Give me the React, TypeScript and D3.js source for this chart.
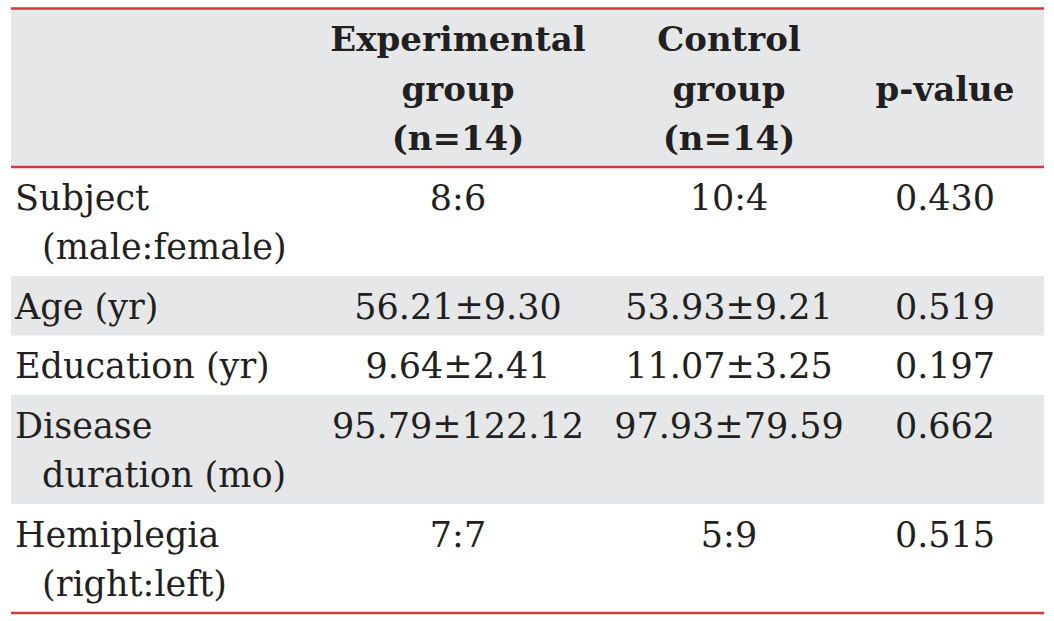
import React from "react";
import * as d3 from "d3";

const headers: string[][] = [
  [],
  ["Experimental", "group", "(n=14)"],
  ["Control", "group", "(n=14)"],
  ["p-value"],
];

const rowLabels: string[][] = [
  ["Subject", "(male:female)"],
  ["Age (yr)"],
  ["Education (yr)"],
  ["Disease", "duration (mo)"],
  ["Hemiplegia", "(right:left)"],
];
const experimental: string[] = ["8:6", "56.21±9.30", "9.64±2.41", "95.79±122.12", "7:7"];
const control: string[] = ["10:4", "53.93±9.21", "11.07±3.25", "97.93±79.59", "5:9"];
const pValues: string[] = ["0.430", "0.519", "0.197", "0.662", "0.515"];

const W = 1054;
const H = 621;
const left = 11;
const right = 1044;
const top = 8.5;
const lineH = 49.5;
const pad = 10;
const fontFamily = "'DejaVu Serif', serif";
const fontSize = 35;
const headerFontSize = 34;
const textColor = "#231f20";
const grey = "#e6e7e8";
const red = "#d2393e";

export default function App() {
  const colCenters = d3
    .scaleOrdinal<number, number>()
    .domain([1, 2, 3])
    .range([458, 729, 945]);

  const headerLines = d3.max(headers, (h) => h.length) ?? 1;
  const rowHeights = [headerLines, ...rowLabels.map((r) => r.length)].map(
    (n) => n * lineH + pad
  );
  const rowTops: number[] = [];
  let acc = top;
  rowHeights.forEach((h) => {
    rowTops.push(acc);
    acc += h;
  });
  const bottom = acc;
  const firstBase = 42.5;

  return (
    <div style={{ position: "absolute", left: 0, top: 0 }}>
      <svg width={W} height={H} style={{ display: "block", background: "#fff" }}>
        <rect x={left} y={rowTops[0]} width={right - left} height={rowHeights[0]} fill={grey} />
        {rowLabels.map((_, i) =>
          i % 2 === 1 ? (
            <rect
              key={"bg" + i}
              x={left}
              y={rowTops[i + 1]}
              width={right - left}
              height={rowHeights[i + 1]}
              fill={grey}
            />
          ) : null
        )}
        <g fontFamily={fontFamily} fontSize={headerFontSize} fontWeight="bold" fill={textColor} textAnchor="middle">
          {headers.map((lines, c) => {
            if (c === 0) return null;
            const offset = (headerLines - lines.length) / 2;
            return lines.map((t, j) => (
              <text
                key={"h" + c + "-" + j}
                x={colCenters(c)}
                y={rowTops[0] + firstBase + (j + offset) * lineH}
              >
                {t}
              </text>
            ));
          })}
        </g>
        <g fontFamily={fontFamily} fontSize={fontSize} fill={textColor}>
          {rowLabels.map((lines, i) => {
            const y0 = rowTops[i + 1] + firstBase;
            return (
              <g key={"r" + i}>
                {lines.map((t, j) => (
                  <text key={"l" + j} x={j === 0 ? 15 : 42} y={y0 + j * lineH}>
                    {t}
                  </text>
                ))}
                <text x={colCenters(1)} y={y0} textAnchor="middle">
                  {experimental[i]}
                </text>
                <text x={colCenters(2)} y={y0} textAnchor="middle">
                  {control[i]}
                </text>
                <text x={colCenters(3)} y={y0} textAnchor="middle">
                  {pValues[i]}
                </text>
              </g>
            );
          })}
        </g>
        {[top, rowTops[1], bottom].map((y, i) => (
          <line key={"rule" + i} x1={left} x2={right} y1={y} y2={y} stroke={red} strokeWidth={2.5} />
        ))}
      </svg>
    </div>
  );
}
